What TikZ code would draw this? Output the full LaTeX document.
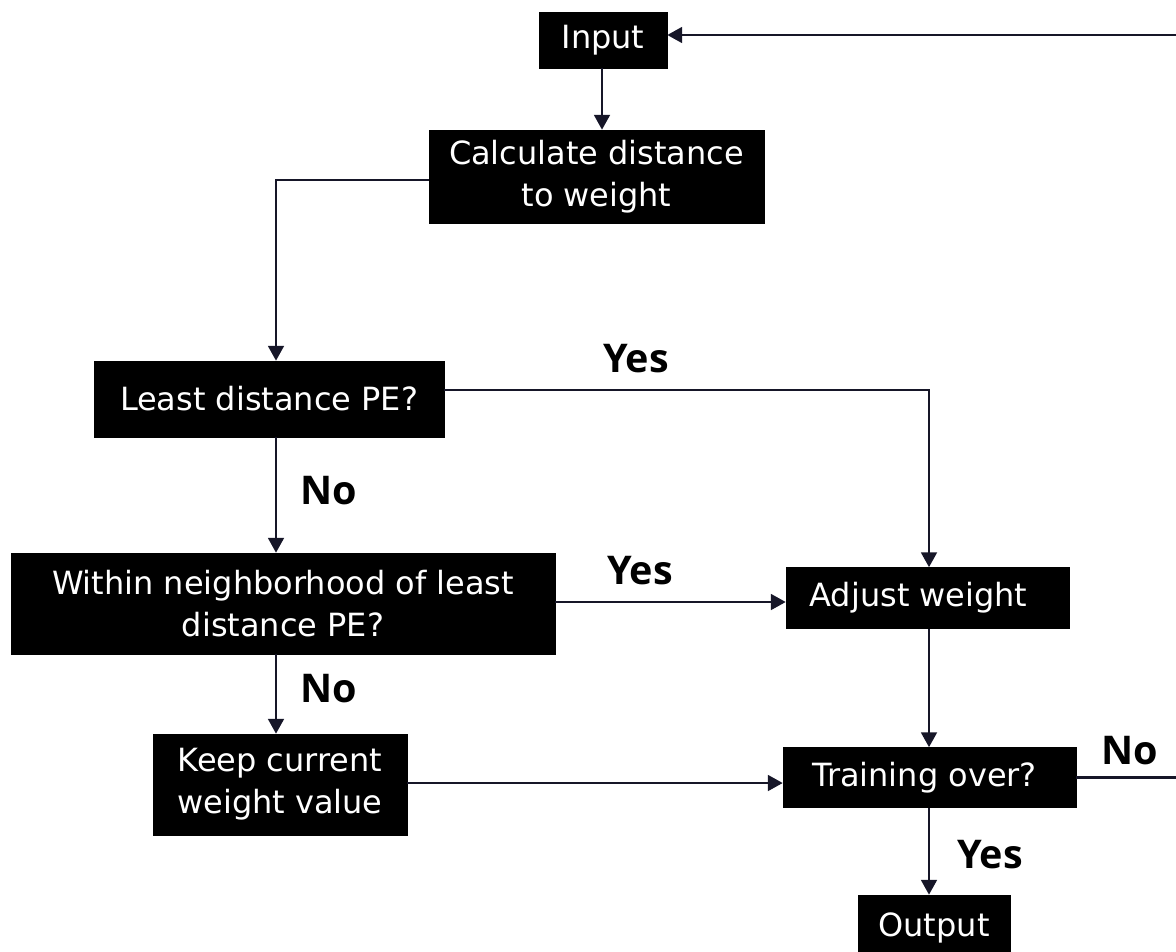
\documentclass[tikz,border=0pt]{standalone}
\usepackage{fontspec}
\newfontfamily\boxfont{DejaVu Sans}
\newfontfamily\lblfont{Open Sans}
\usetikzlibrary{arrows.meta,calc}
\definecolor{wire}{RGB}{22,22,40}
\tikzset{
  stepbox/.style={fill=black, draw=black, text=white, align=center, inner sep=0pt,
    font=\boxfont\fontsize{18.2}{23.9}\selectfont},
  wirearrow/.style={draw=wire, line width=1.2pt,
    -{Triangle[length=8.4pt,width=9pt]}},
  answer/.style={font=\lblfont\bfseries\fontsize{22.5}{26}\selectfont, text=black, inner sep=0pt}
}
\begin{document}
\begin{tikzpicture}[x=0.02cm, y=-0.02cm]
  \useasboundingbox (0,0) rectangle (1176,951);
  \fill[white] (0,0) rectangle (1176,951);

  % process and decision boxes
  \node[stepbox, minimum width=2.56cm, minimum height=1.12cm] (inp) at (603,40) {Input};
  \node[stepbox, minimum width=6.70cm, minimum height=1.86cm] (calc) at (596.5,176.5) {Calculate distance\\to weight};
  \node[stepbox, minimum width=7.00cm, minimum height=1.52cm] (least) at (269,399) {Least distance PE?};
  \node[stepbox, minimum width=10.88cm, minimum height=2.02cm] (within) at (283,603.5) {Within neighborhood of least\\distance PE?};
  \node[stepbox, minimum width=5.66cm, minimum height=1.22cm] (adjust) at (927.5,598) {Adjust weight\hspace*{0.36cm}};
  \node[stepbox, minimum width=5.08cm, minimum height=2.02cm] (keep) at (280,784.5) {Keep current\\weight value};
  \node[stepbox, minimum width=5.86cm, minimum height=1.20cm] (train) at (929.5,777.5) {Training over?\hspace*{0.2cm}};
  \node[stepbox, minimum width=3.04cm, minimum height=1.32cm] (out) at (934,928) {Output};

  % columns the vertical connectors run along
  \coordinate (leftcol) at (276,0);
  \coordinate (rightcol) at (929,0);
  \coordinate (loopcol) at (1190,0);

  % connectors
  \draw[wirearrow] (inp.south -| 602,0) -- (calc.north -| 602,0);
  \draw[wirearrow] ($(calc.west)+(0,3.5)$) -| (least.north -| leftcol);
  \draw[wirearrow] ($(least.east)+(0,-9)$) -| (adjust.north -| rightcol);
  \draw[wirearrow] (least.south -| leftcol) -- (within.north -| leftcol);
  \draw[wirearrow] ($(within.east)+(0,-1.5)$) -- ($(within.east -| adjust.west)+(0,-1.5)$);
  \draw[wirearrow] (within.south -| leftcol) -- (keep.north -| leftcol);
  \draw[wirearrow] (adjust.south -| rightcol) -- (train.north -| rightcol);
  \draw[wirearrow] ($(keep.east)+(0,-1.5)$) -- ($(keep.east -| train.west)+(0,-1.5)$);
  \draw[wirearrow] (train.south -| rightcol) -- (out.north -| rightcol);
  \draw[wirearrow] (train.east) -- (train.east -| loopcol) -- ($(inp.east -| loopcol)+(0,-5)$) -- ($(inp.east)+(0,-5)$);

  % branch labels
  \node[answer] (yes1) at (636,359) {Yes};
  \node[answer] (no1) at (329,491) {No};
  \node[answer] (yes2) at (640,571) {Yes};
  \node[answer] (no2) at (329,689) {No};
  \node[answer] (no3) at (1130,751) {No};
  \node[answer] (yes3) at (990,855) {Yes};
\end{tikzpicture}
\end{document}
